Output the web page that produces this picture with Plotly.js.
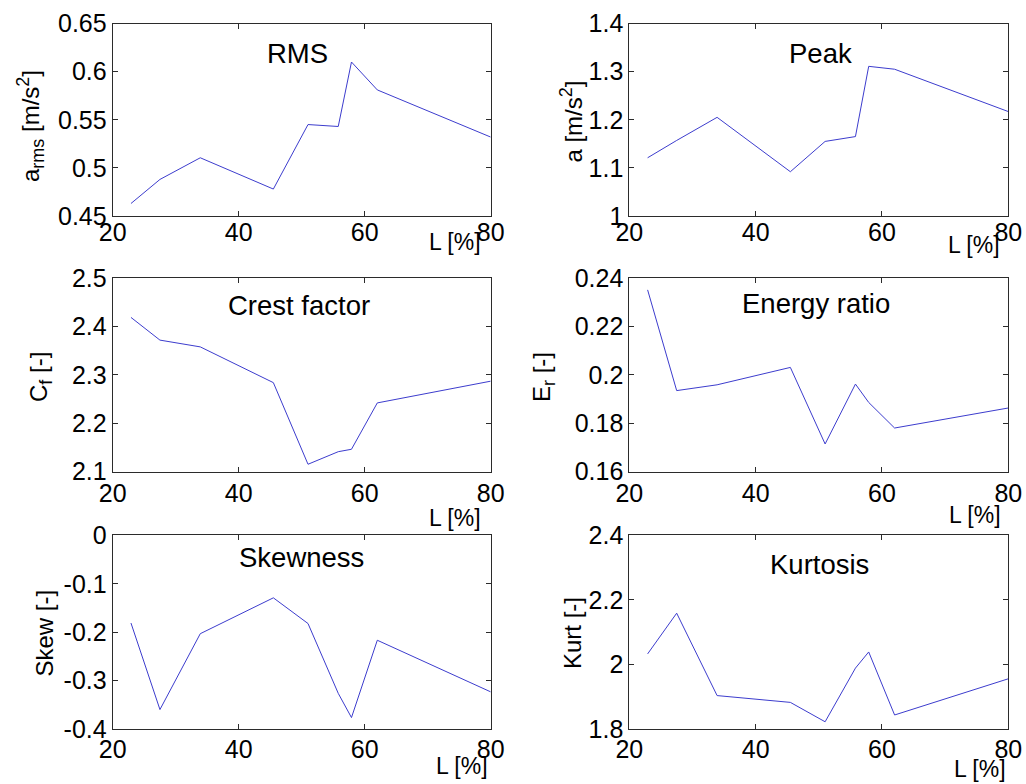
<!DOCTYPE html>
<html>
<head>
<meta charset="utf-8">
<script src="https://cdn.plot.ly/plotly-3.0.1.min.js"></script>
<style>html,body{margin:0;padding:0;background:#fff;}</style>
</head>
<body>
<div id="chart" style="width:1026px;height:784px;"></div>
<script>
// Load level L [%]
const L = [22.9, 27.5, 33.9, 45.5, 51.0, 55.8, 57.9, 62.0, 80.0];
// Series values
const rmsVals    = [0.463, 0.488, 0.5105, 0.478, 0.545, 0.543, 0.610, 0.581, 0.532];
const peakVals   = [1.121, 1.157, 1.205, 1.092, 1.155, 1.165, 1.311, 1.305, 1.217];
const crestVals  = [2.419, 2.372, 2.358, 2.284, 2.115, 2.141, 2.146, 2.242, 2.287];
const energyVals = [0.2352, 0.1935, 0.1959, 0.2031, 0.1714, 0.1962, 0.1886, 0.178, 0.1863];
const skewVals   = [-0.181, -0.3595, -0.203, -0.129, -0.182, -0.326, -0.376, -0.2165, -0.323];
const kurtVals   = [2.033, 2.159, 1.904, 1.883, 1.823, 1.989, 2.039, 1.844, 1.956];

// Tick labels
const xTicks = [20, 40, 60, 80];
const xTickText = ["20", "40", "60", "80"];
const rmsTicks = [0.45, 0.5, 0.55, 0.6, 0.65];
const rmsTickText = ["0.45", "0.5", "0.55", "0.6", "0.65"];
const peakTicks = [1, 1.1, 1.2, 1.3, 1.4];
const peakTickText = ["1", "1.1", "1.2", "1.3", "1.4"];
const crestTicks = [2.1, 2.2, 2.3, 2.4, 2.5];
const crestTickText = ["2.1", "2.2", "2.3", "2.4", "2.5"];
const energyTicks = [0.16, 0.18, 0.2, 0.22, 0.24];
const energyTickText = ["0.16", "0.18", "0.2", "0.22", "0.24"];
const skewTicks = [-0.4, -0.3, -0.2, -0.1, 0];
const skewTickText = ["-0.4", "-0.3", "-0.2", "-0.1", "0"];
const kurtTicks = [1.8, 2, 2.2, 2.4];
const kurtTickText = ["1.8", "2", "2.2", "2.4"];

// Titles and labels
const panelTitles = ["RMS", "Peak", "Crest factor", "Energy ratio", "Skewness", "Kurtosis"];
const SS = '<span style="font-size:18px">';
const yLabels = [
  "a<sub>" + SS + "rms</span></sub> [m/s<sup>" + SS + "2</span></sup>]",
  "a [m/s<sup>" + SS + "2</span></sup>]",
  "C<sub>" + SS + "f</span></sub> [-]",
  "E<sub>" + SS + "r</span></sub> [-]",
  "Skew [-]",
  "Kurt [-]"
];
const xLabel = "L [%]";

const W = 1026, H = 784;
const FONT = "Liberation Sans, Arial, sans-serif";
const LINE_COLOR = "rgb(60,60,205)";
const AX_COLOR = "#2b2b2b";

const series = [rmsVals, peakVals, crestVals, energyVals, skewVals, kurtVals];
const yTickSets = [[rmsTicks, rmsTickText, [0.45, 0.65]], [peakTicks, peakTickText, [1, 1.4]],
  [crestTicks, crestTickText, [2.1, 2.5]], [energyTicks, energyTickText, [0.16, 0.24]],
  [skewTicks, skewTickText, [-0.4, 0]], [kurtTicks, kurtTickText, [1.8, 2.4]]];

// pixel geometry of the axes boxes
const colX = [[112.7, 490.7], [629.3, 1008.3]];
const rowY = [[23.5, 216.0], [278.3, 471.5], [535.3, 729.2]];
const xStandoff = [-6, -1, -2];

const titlePos = [[297, 53.7], [820, 53.7], [298.5, 305.5], [816, 303.8], [301, 557.5], [819, 564]];
const yLabPos = [[31, 126], [572, 121.6], [40, 377], [543, 377], [44, 633.5], [572, 633]];
const xLabPos = [[483.3, 242], [1001.7, 245], [483.3, 517.5], [1003, 515], [490, 766], [1008.3, 769]];

const traces = [];
const layout = {
  width: W, height: H,
  margin: {l: 0, r: 0, t: 0, b: 0},
  paper_bgcolor: "#ffffff",
  plot_bgcolor: "#ffffff",
  showlegend: false,
  font: {family: FONT, color: "#000", size: 25},
  annotations: []
};

for (let i = 0; i < 6; i++) {
  const row = Math.floor(i / 2), col = i % 2;
  const n = i + 1;
  const xa = n === 1 ? "xaxis" : "xaxis" + n;
  const ya = n === 1 ? "yaxis" : "yaxis" + n;
  traces.push({
    x: L, y: series[i], type: "scatter", mode: "lines",
    line: {color: LINE_COLOR, width: 1},
    xaxis: "x" + (n === 1 ? "" : n), yaxis: "y" + (n === 1 ? "" : n),
    hoverinfo: "skip"
  });
  const common = {
    showline: true, mirror: "ticks", linecolor: AX_COLOR, linewidth: 1,
    ticks: "inside", ticklen: 5, tickcolor: AX_COLOR, tickwidth: 1,
    showgrid: false, zeroline: false,
    tickfont: {family: FONT, size: 25, color: "#000"},
    fixedrange: true
  };
  layout[xa] = Object.assign({}, common, {
    domain: [colX[col][0] / W, colX[col][1] / W],
    range: [20, 80], tickmode: "array", tickvals: xTicks, ticktext: xTickText,
    ticklabelstandoff: xStandoff[row],
    anchor: "y" + (n === 1 ? "" : n)
  });
  layout[ya] = Object.assign({}, common, {
    domain: [1 - rowY[row][1] / H, 1 - rowY[row][0] / H],
    range: yTickSets[i][2], tickmode: "array", tickvals: yTickSets[i][0], ticktext: yTickSets[i][1],
    anchor: "x" + (n === 1 ? "" : n)
  });
  layout.annotations.push({
    text: panelTitles[i], xref: "paper", yref: "paper",
    x: titlePos[i][0] / W, y: 1 - titlePos[i][1] / H,
    xanchor: "center", yanchor: "middle", showarrow: false,
    font: {family: FONT, size: 27.5, color: "#000"}
  });
  layout.annotations.push({
    text: yLabels[i], xref: "paper", yref: "paper",
    x: yLabPos[i][0] / W, y: 1 - yLabPos[i][1] / H,
    xanchor: "center", yanchor: "middle", showarrow: false, textangle: -90,
    font: {family: FONT, size: 24, color: "#000"}
  });
  layout.annotations.push({
    text: xLabel, xref: "paper", yref: "paper",
    x: xLabPos[i][0] / W, y: 1 - xLabPos[i][1] / H,
    xanchor: "right", yanchor: "middle", showarrow: false,
    font: {family: FONT, size: 23, color: "#000"}
  });
}

Plotly.newPlot("chart", traces, layout, {staticPlot: true, displayModeBar: false});
</script>
</body>
</html>
